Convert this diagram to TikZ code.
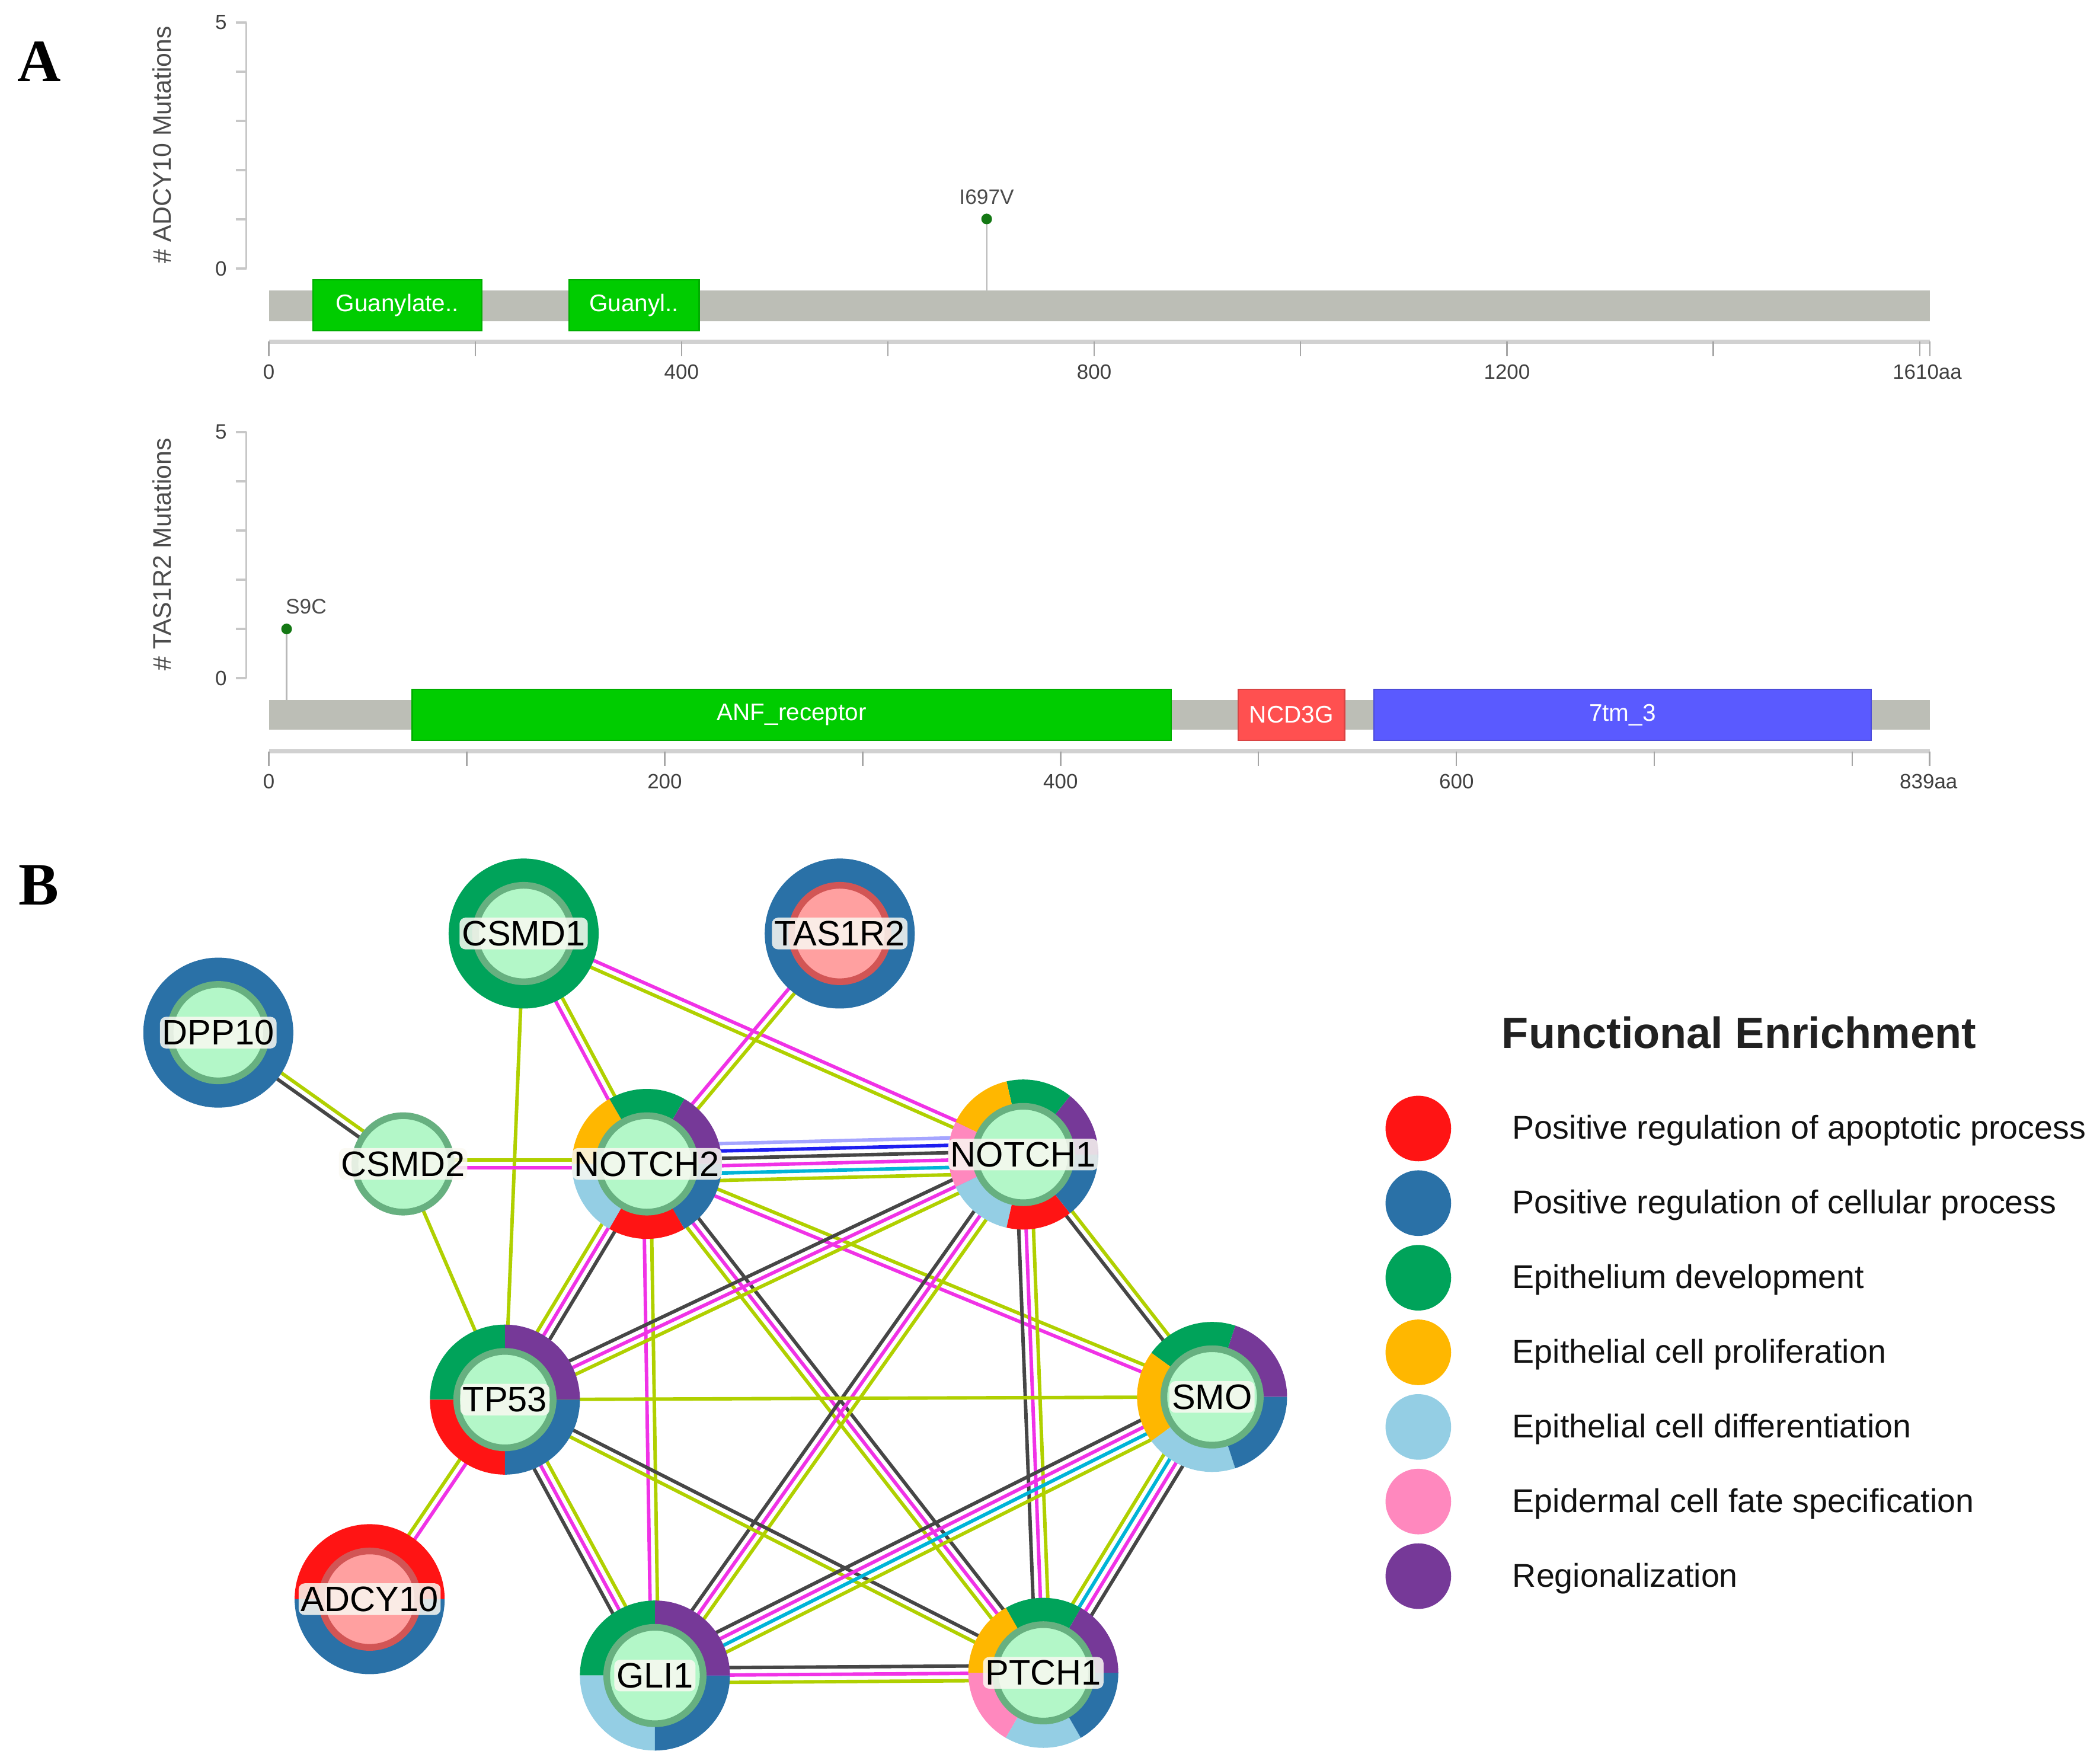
\documentclass[tikz,border=0pt]{standalone}
\usepackage{fontspec}
\setmainfont{Liberation Sans}
\newfontfamily\panelfont{Liberation Serif}
\usetikzlibrary{calc}
\pgfdeclarelayer{background}
\pgfsetlayers{background,main}

\definecolor{protgray}{RGB}{188,190,182}
\definecolor{dgreen}{RGB}{0,204,0}
\definecolor{dred}{RGB}{255,80,80}
\definecolor{dblue}{RGB}{90,90,255}
\definecolor{mutgreen}{RGB}{20,120,20}
\definecolor{cred}{RGB}{255,20,20}
\definecolor{cblue}{RGB}{42,113,167}
\definecolor{cgreen}{RGB}{0,163,90}
\definecolor{corange}{RGB}{255,183,0}
\definecolor{clight}{RGB}{148,206,228}
\definecolor{cpink}{RGB}{255,136,190}
\definecolor{cpurple}{RGB}{118,57,152}
\definecolor{ingreen}{RGB}{179,247,200}
\definecolor{ingreenrim}{RGB}{103,176,128}
\definecolor{inpink}{RGB}{255,160,160}
\definecolor{inpinkrim}{RGB}{210,85,85}
\definecolor{halo}{RGB}{250,249,242}
\definecolor{lyel}{RGB}{176,208,0}
\definecolor{lmag}{RGB}{240,50,230}
\definecolor{lgray}{RGB}{70,70,70}
\definecolor{lcyan}{RGB}{0,180,215}
\definecolor{lblue}{RGB}{30,30,240}
\definecolor{llav}{RGB}{165,165,255}

\tikzset{
  panel/.style={font=\panelfont\bfseries\fontsize{25.6}{30}\selectfont, inner sep=0},
  axisline/.style={draw=black!22, line width=0.3mm},
  xaxisline/.style={draw=black!18, line width=0.6mm},
  tickline/.style={draw=black!35, line width=0.2mm},
  ticktext/.style={text=black!75, font=\fontsize{8.8}{10}\selectfont, inner sep=0},
  ylabtext/.style={text=black!70, font=\fontsize{10.8}{13}\selectfont, rotate=90, inner sep=0},
  domainbox/.style={draw=#1!85!black, fill=#1, line width=0.2mm, minimum height=7.6mm,
    text=white, font=\fontsize{10.2}{12}\selectfont, inner sep=0},
  stemline/.style={draw=black!28, line width=0.2mm},
  mutlabel/.style={text=black!70, font=\fontsize{8.9}{10}\selectfont, inner sep=0},
  geneinner/.style={circle, minimum size=14.4mm, inner sep=0, line width=1mm},
  greeninner/.style={geneinner, fill=ingreen, draw=ingreenrim},
  pinkinner/.style={geneinner, fill=inpink, draw=inpinkrim},
  genelabel/.style={font=\fontsize{15}{18}\selectfont, fill=halo, fill opacity=0.85,
    text opacity=1, rounded corners=0.9mm, inner xsep=0.35mm, inner ysep=0.5mm},
  linkline/.style={line width=0.52mm},
  legtitle/.style={text=black!87, font=\bfseries\fontsize{18.6}{22}\selectfont, inner sep=0},
  legdot/.style={circle, minimum size=9.8mm, inner sep=0},
  legtext/.style={anchor=base west, text=black!93, font=\fontsize{14}{17}\selectfont, inner sep=0}
}

\newcommand{\genering}[2]{%
  \foreach \col [count=\n] in {#2} {\xdef\nseg{\n}}%
  \foreach \col [count=\i from 0] in {#2}
    \fill[\col] (#1) -- ++({\i*360/\nseg}:11.2mm)
      arc[start angle={\i*360/\nseg}, delta angle={360/\nseg}, radius=11.2mm] -- cycle;
}
\newcommand{\genelink}[3]{%
  \foreach \col [count=\n] in {#3} {\xdef\nlin{\n}}%
  \foreach \col [count=\i from 0] in {#3} {
    \pgfmathsetmacro\lo{(\i-(\nlin-1)/2)*1.1}
    \draw[linkline, draw=\col] ($(#1)!\lo mm!90:(#2)$) -- ($(#2)!\lo mm!-90:(#1)$);
  }
}

\begin{document}
\begin{tikzpicture}[x=0.2mm, y=0.2mm]
    \useasboundingbox (0,0) rectangle (1568,-1317);
    \node[panel] (labA) at (29.5,-46) {A};
    \node[panel] (labB) at (29,-661) {B};

    \draw[axisline] (184,-16.8) -- (184,-200.5);
    \foreach \k in {0,...,5}
        \draw[axisline] (176,{-16.8-36.74*\k}) -- (184,{-16.8-36.74*\k});
    \node[ticktext] (ya5) at (165,-16.8) {5};
    \node[ticktext] (ya0) at (165,-200.5) {0};
    \node[ylabtext] (ylaba) at (121,-108) {\# ADCY10 Mutations};
    \draw[stemline] (736.7,-163.5) -- (736.7,-217);
    \fill[mutgreen] (736.7,-163.5) circle[radius=0.8mm];
    \node[mutlabel] (muta) at (736.7,-147) {I697V};
    \fill[protgray] (201,-217) rectangle (1441,-240);
    \node[domainbox=dgreen, minimum width=25.2mm] (guan1) at (296.7,-228) {Guanylate..};
    \node[domainbox=dgreen, minimum width=19.46mm] (guan2) at (473.4,-228) {Guanyl..};
    \draw[xaxisline] (201,-255) -- (1441,-255);
    \foreach \v in {0,200,...,1600,1610}
        \draw[tickline] ({200.7+0.7704*\v},-255) -- ++(0,-11);
    \foreach \v in {0,400,800,1200}
        \node[ticktext] (xa\v) at ({200.7+0.7704*\v},-277.5) {\v};
    \node[ticktext] (xaend) at (1439,-277.5) {1610aa};

    \draw[axisline] (184,-322.6) -- (184,-506.3);
    \foreach \k in {0,...,5}
        \draw[axisline] (176,{-322.6-36.74*\k}) -- (184,{-322.6-36.74*\k});
    \node[ticktext] (yb5) at (165,-322.6) {5};
    \node[ticktext] (yb0) at (165,-506.3) {0};
    \node[ylabtext] (ylabb) at (121,-414) {\# TAS1R2 Mutations};
    \draw[stemline] (214,-469.6) -- (214,-522.7);
    \fill[mutgreen] (214,-469.6) circle[radius=0.8mm];
    \node[mutlabel, anchor=west] (mutb) at (213,-453) {S9C};
    \fill[protgray] (201,-522.7) rectangle (1441,-544.8);
    \node[domainbox=dgreen, minimum width=113.3mm] (anf) at (591.1,-533.7) {ANF\_receptor};
    \node[domainbox=dred, minimum width=15.9mm] (ncd) at (964.2,-533.7) {NCD3G};
    \node[domainbox=dblue, minimum width=74.2mm] (tm) at (1211.5,-533.7) {7tm\_3};
    \draw[xaxisline] (201,-561) -- (1441,-561);
    \foreach \v in {0,100,...,800,839}
        \draw[tickline] ({200.7+1.478*\v},-561) -- ++(0,-11);
    \foreach \v in {0,200,400,600}
        \node[ticktext] (xb\v) at ({200.7+1.478*\v},-583.3) {\v};
    \node[ticktext] (xbend) at (1440,-583.3) {839aa};

    \genering{163,-771}{cblue}
    \node[greeninner] (dpp10) at (163,-771) {};
    \node[genelabel] (dpp10txt) at (dpp10) {DPP10};
    \genering{391,-697}{cgreen}
    \node[greeninner] (csmd1) at (391,-697) {};
    \node[genelabel] (csmd1txt) at (csmd1) {CSMD1};
    \genering{627,-697}{cblue}
    \node[pinkinner] (tas1r2) at (627,-697) {};
    \node[genelabel] (tas1r2txt) at (tas1r2) {TAS1R2};
    \node[greeninner] (csmd2) at (301,-869) {};
    \node[genelabel] (csmd2txt) at (csmd2) {CSMD2};
    \genering{483,-869}{cpurple,cgreen,corange,clight,cred,cblue}
    \node[greeninner] (notch2) at (483,-869) {};
    \node[genelabel] (notch2txt) at (notch2) {NOTCH2};
    \genering{764,-862}{cpurple,cgreen,corange,cpink,clight,cred,cblue}
    \node[greeninner] (notch1) at (764,-862) {};
    \node[genelabel] (notch1txt) at (notch1) {NOTCH1};
    \genering{377,-1045}{cpurple,cgreen,cred,cblue}
    \node[greeninner] (tp53) at (377,-1045) {};
    \node[genelabel] (tp53txt) at (tp53) {TP53};
    \genering{905,-1043}{cpurple,cgreen,corange,clight,cblue}
    \node[greeninner] (smo) at (905,-1043) {};
    \node[genelabel] (smotxt) at (smo) {SMO};
    \genering{276,-1194}{cred,cblue}
    \node[pinkinner] (adcy10) at (276,-1194) {};
    \node[genelabel] (adcy10txt) at (adcy10) {ADCY10};
    \genering{489,-1251}{cpurple,cgreen,clight,cblue}
    \node[greeninner] (gli1) at (489,-1251) {};
    \node[genelabel] (gli1txt) at (gli1) {GLI1};
    \genering{779,-1249}{cpurple,cgreen,corange,cpink,clight,cblue}
    \node[greeninner] (ptch1) at (779,-1249) {};
    \node[genelabel] (ptch1txt) at (ptch1) {PTCH1};

    \begin{pgfonlayer}{background}
        \genelink{dpp10}{csmd2}{lgray,lyel}
        \genelink{csmd1}{tp53}{lyel}
        \genelink{csmd1}{notch2}{lmag,lyel}
        \genelink{csmd1}{notch1}{lyel,lmag}
        \genelink{tas1r2}{notch2}{lmag,lyel}
        \genelink{csmd2}{notch2}{lmag,lyel}
        \genelink{csmd2}{tp53}{lyel}
        \genelink{notch2}{notch1}{lyel,lcyan,lmag,lgray,lblue,llav}
        \genelink{notch2}{tp53}{lyel,lmag,lgray}
        \genelink{notch2}{gli1}{lmag,lyel}
        \genelink{notch2}{ptch1}{lyel,lmag,lgray}
        \genelink{notch2}{smo}{lmag,lyel}
        \genelink{notch1}{tp53}{lgray,lmag,lyel}
        \genelink{notch1}{gli1}{lgray,lmag,lyel}
        \genelink{notch1}{ptch1}{lgray,lmag,lyel}
        \genelink{notch1}{smo}{lgray,lyel}
        \genelink{tp53}{smo}{lyel}
        \genelink{tp53}{gli1}{lgray,lmag,lyel}
        \genelink{tp53}{ptch1}{lyel,lgray}
        \genelink{tp53}{adcy10}{lyel,lmag}
        \genelink{gli1}{ptch1}{lyel,lmag,lgray}
        \genelink{gli1}{smo}{lyel,lcyan,lmag,lgray}
        \genelink{ptch1}{smo}{lgray,lmag,lcyan,lyel}
    \end{pgfonlayer}

    \node[legtitle] (legtitle) at (1298.5,-771) {Functional Enrichment};
    \foreach \col/\txt [count=\i from 0] in {cred/Positive regulation of apoptotic process,
        cblue/Positive regulation of cellular process, cgreen/Epithelium development,
        corange/Epithelial cell proliferation, clight/Epithelial cell differentiation,
        cpink/Epidermal cell fate specification, cpurple/Regionalization} {
        \node[legdot, fill=\col] (dot\i) at (1059,{-842.6-55.7*\i}) {};
        \node[legtext] (term\i) at ([xshift=14mm, yshift=-1.6mm]dot\i) {\txt};
    }
\end{tikzpicture}
\end{document}
